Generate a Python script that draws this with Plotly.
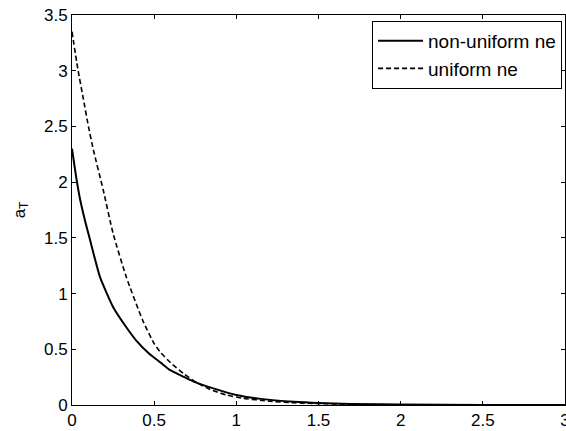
import plotly.graph_objects as go

x_nonuni = [0.0, 0.025, 0.05, 0.08, 0.11, 0.17, 0.25, 0.32, 0.39, 0.47, 0.54, 0.6, 0.67, 0.74, 0.87, 1.0, 1.15, 1.35, 1.7, 2.0, 2.5, 3.0]
y_nonuni = [2.3, 2.05, 1.84, 1.65, 1.48, 1.15, 0.88, 0.72, 0.58, 0.46, 0.38, 0.31, 0.26, 0.21, 0.145, 0.09, 0.055, 0.03, 0.01, 0.004, 0.001, 0.0]

x_uni = [0.0, 0.035, 0.07, 0.1, 0.13, 0.19, 0.25, 0.33, 0.43, 0.5, 0.54, 0.6, 0.68, 0.76, 0.84, 0.94, 1.04, 1.2, 1.35, 1.7, 2.0, 2.5, 3.0]
y_uni = [3.35, 3.02, 2.74, 2.5, 2.29, 1.93, 1.54, 1.15, 0.76, 0.55, 0.47, 0.38, 0.28, 0.2, 0.14, 0.09, 0.06, 0.035, 0.02, 0.006, 0.002, 0.0005, 0.0]

x_ticks = [0, 0.5, 1, 1.5, 2, 2.5, 3]
x_ticklabels = ["0", "0.5", "1", "1.5", "2", "2.5", "3"]
y_ticks = [0, 0.5, 1, 1.5, 2, 2.5, 3, 3.5]
y_ticklabels = ["0", "0.5", "1", "1.5", "2", "2.5", "3", "3.5"]

FONT = "Liberation Sans, Arial"

fig = go.Figure()
fig.add_trace(go.Scatter(x=x_nonuni, y=y_nonuni, mode="lines", name="non-uniform ne",
                         line=dict(color="black", width=2, shape="spline", smoothing=0.5)))
fig.add_trace(go.Scatter(x=x_uni, y=y_uni, mode="lines", name="uniform ne",
                         line=dict(color="black", width=1.6, dash="5px,3px", shape="spline", smoothing=0.5)))

axis_common = dict(showgrid=False, zeroline=False, showline=True, linecolor="black", linewidth=1,
                   mirror="ticks", ticks="inside", ticklen=4, tickcolor="black",
                   ticklabeloverflow="allow", automargin=False,
                   tickfont=dict(family=FONT, size=17, color="black"))

fig.update_xaxes(range=[0, 3], tickvals=x_ticks, ticktext=x_ticklabels, **axis_common)
fig.update_yaxes(range=[0, 3.5], tickvals=y_ticks, ticktext=y_ticklabels,
                 title=dict(text="a<sub>T</sub>", font=dict(family=FONT, size=17, color="black"), standoff=14),
                 **axis_common)

fig.update_layout(
    width=566, height=431,
    margin=dict(l=72, r=1, t=15, b=26),
    plot_bgcolor="white", paper_bgcolor="white",
    showlegend=True,
    legend=dict(x=0.994, y=0.985, xanchor="right", yanchor="top",
                bordercolor="black", borderwidth=1, bgcolor="white",
                font=dict(family=FONT, size=19, color="black"),
                tracegroupgap=0, itemwidth=45),
)

fig.write_html("out.html", config={"displayModeBar": False},
               post_script="document.body.style.margin='0';document.body.style.overflow='hidden';")
